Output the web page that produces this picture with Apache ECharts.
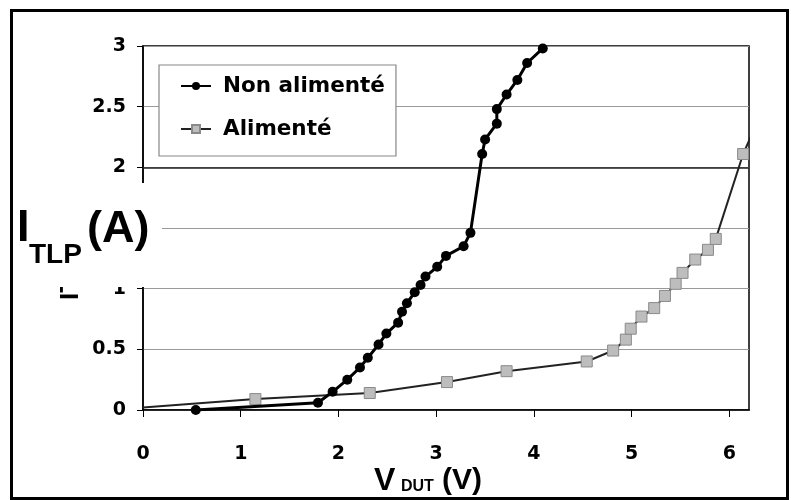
<!DOCTYPE html>
<html><head><meta charset="utf-8">
<script src="https://cdn.jsdelivr.net/npm/echarts@6/dist/echarts.min.js"></script>
<style>html,body{margin:0;padding:0;background:#fff}#c{width:791px;height:500px}</style>
</head><body><div id="c"></div>
<script>
const seriesNames = ['Non alimenté', 'Alimenté'];
// Non alimenté (black circles)
const nonV = [0.54, 1.79, 1.94, 2.09, 2.22, 2.30, 2.41, 2.49, 2.61, 2.65, 2.70, 2.78, 2.84, 2.89, 3.01, 3.10, 3.28, 3.35, 3.47, 3.50, 3.62, 3.62, 3.72, 3.83, 3.93, 4.09];
const nonI = [0.00, 0.06, 0.15, 0.25, 0.35, 0.43, 0.54, 0.63, 0.72, 0.81, 0.88, 0.97, 1.03, 1.10, 1.18, 1.27, 1.35, 1.46, 2.11, 2.23, 2.36, 2.48, 2.60, 2.72, 2.86, 2.98];
// Alimenté (gray squares)
const aliV = [0, 1.15, 2.32, 3.11, 3.72, 4.54, 4.81, 4.94, 4.99, 5.10, 5.23, 5.34, 5.45, 5.52, 5.65, 5.78, 5.86, 6.14, 6.30];
const aliI = [0.02, 0.09, 0.14, 0.23, 0.32, 0.40, 0.49, 0.58, 0.67, 0.77, 0.84, 0.94, 1.04, 1.13, 1.24, 1.32, 1.41, 2.11, 2.40];
const yTicks = [0, 0.5, 1, 1.5, 2, 2.5, 3];
const xTicks = [0, 1, 2, 3, 4, 5, 6];
const xName = ['V', 'DUT', '(V)'];
const yName = ['I', 'TLP', '(A)'];

const chart = echarts.init(document.getElementById('c'), null, {renderer: 'canvas'});
const labelFont = {color: '#000', fontWeight: 'bold', fontFamily: 'DejaVu Sans', fontSize: 19};
const nonData = nonV.map((v, i) => [v, nonI[i]]);
const aliData = aliV.map((v, i) => i === 0 ? {value: [v, aliI[i]], symbol: 'none'} : [v, aliI[i]]);

chart.setOption({
  animation: false,
  backgroundColor: '#fff',
  grid: {left: 143, top: 46, right: 42, bottom: 90, show: true, borderColor: '#000', borderWidth: 1.5, backgroundColor: 'transparent'},
  legend: {
    orient: 'vertical', left: 159, top: 65,
    padding: [10, 11, 16, 21],
    itemGap: 21, itemWidth: 30, itemHeight: 10,
    backgroundColor: '#fff', borderColor: '#888', borderWidth: 1.2,
    textStyle: {color: '#000', fontWeight: 'bold', fontFamily: 'DejaVu Sans', fontSize: 21.5, lineHeight: 22, padding: [0, 0, 0, 7]},
    data: seriesNames
  },
  xAxis: {
    type: 'value', min: 0, max: 6.2, interval: 1,
    axisLine: {show: true, lineStyle: {color: '#000', width: 1.5}},
    axisTick: {show: true, length: 7, lineStyle: {color: '#000', width: 1}},
    axisLabel: Object.assign({margin: 35, showMaxLabel: false, formatter: v => xTicks.includes(v) ? String(v) : ''}, labelFont),
    splitLine: {show: false}
  },
  yAxis: {
    type: 'value', min: 0, max: 3, interval: 0.5,
    axisLine: {show: true, lineStyle: {color: '#000', width: 1.5}},
    axisTick: {show: true, length: 6, lineStyle: {color: '#000', width: 1}},
    axisLabel: Object.assign({margin: 17, formatter: v => yTicks.includes(v) ? String(v) : ''}, labelFont),
    splitLine: {show: true, lineStyle: {color: '#999', width: 1.2}}
  },
  series: [
    {
      name: seriesNames[0], type: 'line', data: nonData, clip: true,
      symbol: 'circle', symbolSize: 10,
      lineStyle: {color: '#000', width: 3},
      itemStyle: {color: '#000'},
      z: 4,
      markLine: {silent: true, symbol: 'none', label: {show: false}, lineStyle: {color: '#222', width: 1.5, type: 'solid'}, data: [{yAxis: 2}], z: 1}
    },
    {
      name: seriesNames[1], type: 'line', data: aliData, clip: true,
      symbol: 'rect', symbolSize: 11,
      lineStyle: {color: '#222', width: 2},
      itemStyle: {color: '#bdbdbd', borderColor: '#8a8a8a', borderWidth: 1},
      z: 3
    }
  ],
  graphic: [
    // rotated axis-name remnant (mostly hidden behind the white box)
    {type: 'group', z: 90, children: [
      {type: 'text', x: 71, y: 300, rotation: Math.PI / 2, style: {text: yName.join(''), fontFamily: 'Liberation Sans', fontWeight: 'bold', fontSize: 26, fill: '#000', align: 'left', verticalAlign: 'middle'}}
    ]},
    {type: 'rect', z: 95, shape: {x: 13, y: 183, width: 149, height: 104}, style: {fill: '#fff'}},
    {type: 'text', z: 100, x: 17, y: 229, style: {text: yName[0], fontFamily: 'Liberation Sans', fontWeight: 'bold', fontSize: 45, fill: '#000', align: 'left', verticalAlign: 'middle'}},
    {type: 'text', z: 100, x: 29, y: 255, style: {text: yName[1], fontFamily: 'Liberation Sans', fontWeight: 'bold', fontSize: 28, fill: '#000', align: 'left', verticalAlign: 'middle'}},
    {type: 'text', z: 100, x: 87, y: 230, style: {text: yName[2], fontFamily: 'Liberation Sans', fontWeight: 'bold', fontSize: 45, fill: '#000', align: 'left', verticalAlign: 'middle'}},
    {type: 'text', z: 100, x: 374, y: 481, style: {text: xName[0], fontFamily: 'Liberation Sans', fontWeight: 'bold', fontSize: 32, fill: '#000', align: 'left', verticalAlign: 'middle'}},
    {type: 'text', z: 100, x: 401, y: 487, style: {text: xName[1], fontFamily: 'Liberation Sans', fontWeight: 'bold', fontSize: 16, fill: '#000', align: 'left', verticalAlign: 'middle'}},
    {type: 'text', z: 100, x: 442, y: 481, style: {text: xName[2], fontFamily: 'Liberation Sans', fontWeight: 'bold', fontSize: 30, fill: '#000', align: 'left', verticalAlign: 'middle'}},
    {type: 'rect', z: 100, shape: {x: 11.5, y: 10.5, width: 776, height: 488}, style: {fill: 'none', stroke: '#000', lineWidth: 3}}
  ]
});
</script></body></html>
